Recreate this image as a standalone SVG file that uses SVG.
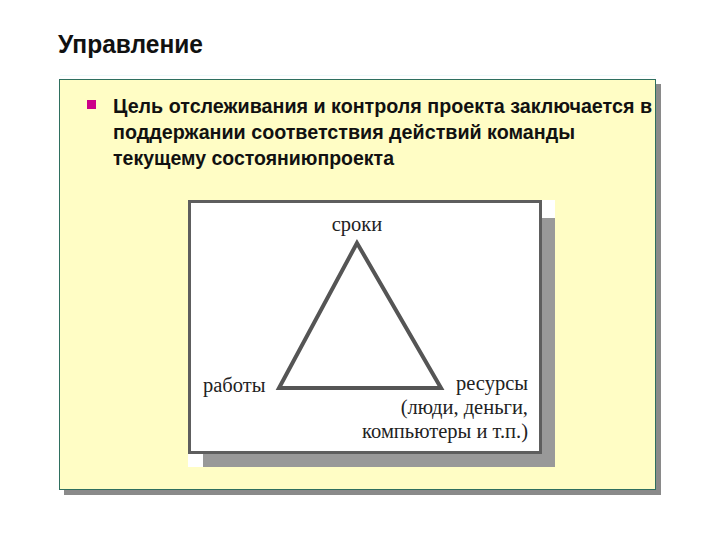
<svg xmlns="http://www.w3.org/2000/svg" width="720" height="540" viewBox="0 0 720 540">
  <style>
    .title { font-family: "Liberation Sans", Arial, sans-serif; font-size: 25px; font-weight: bold; fill: #111; }
    .bullet { font-family: "Liberation Sans", Arial, sans-serif; font-size: 21px; font-weight: bold; fill: #111; }
    .lbl { font-family: "Liberation Serif", "Times New Roman", serif; font-size: 20.5px; fill: #222; }
    .edge { stroke: #555; stroke-width: 4; fill: none; stroke-linejoin: miter; }
  </style>
  <rect width="720" height="540" fill="#ffffff"/>
  <g id="title">
    <text class="title" x="58" y="53" textLength="145" lengthAdjust="spacingAndGlyphs">Управление</text>
  </g>
  <g id="panel">
    <line x1="60" y1="75.5" x2="655" y2="75.5" stroke="#eefafa" stroke-width="1"/>
    <rect x="64" y="84" width="597" height="411" fill="#8a8a8a"/>
    <rect x="59.5" y="79.5" width="596" height="410" fill="#fffdc5" stroke="#2f6f5f" stroke-width="1"/>
  </g>
  <g id="bullet-text">
    <rect x="87" y="100" width="9" height="9" fill="#cc0088"/>
    <text class="bullet" x="113" y="113" textLength="539" lengthAdjust="spacingAndGlyphs">Цель отслеживания и контроля проекта заключается в</text>
    <text class="bullet" x="113" y="139" textLength="462" lengthAdjust="spacingAndGlyphs">поддержании соответствия действий команды</text>
    <text class="bullet" x="113" y="165" textLength="281" lengthAdjust="spacingAndGlyphs">текущему состояниюпроекта</text>
  </g>
  <g id="figure">
    <rect x="188" y="200" width="367" height="267" fill="#ffffff"/>
    <rect x="203" y="218" width="352" height="249" fill="#999999"/>
    <rect x="189.5" y="201.5" width="351" height="251" fill="#ffffff" stroke="#5e5e5e" stroke-width="3"/>
  </g>
  <g id="connectors">
    <polygon class="edge" points="357,243 279,388 441,388"/>
  </g>
  <g id="node-sroki">
    <text class="lbl" x="357" y="231" text-anchor="middle">сроки</text>
  </g>
  <g id="node-raboty">
    <text class="lbl" x="203" y="392">работы</text>
  </g>
  <g id="node-resursy">
    <text class="lbl" x="528" y="390" text-anchor="end">ресурсы</text>
    <text class="lbl" x="528" y="414" text-anchor="end">(люди, деньги,</text>
    <text class="lbl" x="528" y="438" text-anchor="end">компьютеры и т.п.)</text>
  </g>
</svg>
